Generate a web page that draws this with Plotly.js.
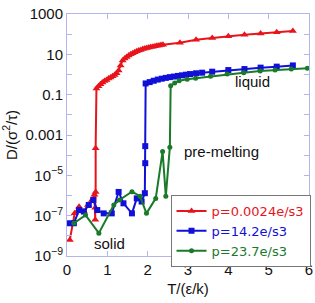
<!DOCTYPE html>
<html><head><meta charset="utf-8">
<script src="https://cdn.plot.ly/plotly-3.0.1.min.js"></script>
<style>html,body{margin:0;padding:0;background:#fff}#c{width:315px;height:303px}</style>
</head><body><div id="c"></div>
<script>
// p=0.0024e/s3
const redT = [0.07,0.19,0.30,0.42,0.52,0.62,0.68,0.70,0.70,0.71,0.71,0.73,0.78,0.83,0.88,0.93,0.98,1.03,1.08,1.13,1.18,1.23,1.28,1.33,1.38,1.43,1.48,1.53,1.58,1.63,1.68,1.73,1.78,1.83,1.88,1.93,1.98,2.03,2.08,2.13,2.18,2.23,2.28,2.33,2.38,2.8,3.2,3.6,4.0,4.4,4.8,5.2,5.6];
const redD = [6.3e-9,1.3e-7,2.8e-7,1.6e-7,3.4e-7,6.0e-7,1.1e-6,6.3e-8,2.5e-7,1.5e-6,2.2e-4,0.20,0.26,0.33,0.40,0.47,0.54,0.63,0.72,0.83,0.95,1.15,1.6,2.8,5.0,6.3,7.4,8.7,10,11.2,12.6,14.1,15.5,16.6,18.2,19.5,20.4,21.9,22.9,24,25.1,26.3,27.5,28.8,30.2,37.6,52.5,64.6,79.4,93.3,107,123,145];
// p=14.2e/s3
const blueT = [0.07,0.17,0.30,0.42,0.54,0.65,0.75,0.91,1.11,1.28,1.40,1.61,1.73,1.85,1.93,1.94,1.94,1.95,2.05,2.15,2.25,2.35,2.45,2.55,2.65,2.75,2.85,2.95,3.05,3.2,3.35,3.6,4.0,4.4,4.8,5.2,5.6];
const blueD = [4.2e-8,4.2e-8,1.9e-7,1.6e-7,3.4e-7,6.0e-7,1.9e-7,1.3e-7,1.3e-7,1.5e-6,4.1e-7,1.3e-7,7.2e-7,5.0e-7,1.3e-6,4.0e-5,2.8e-4,0.36,0.42,0.49,0.56,0.62,0.68,0.74,0.79,0.85,0.91,0.98,1.05,1.15,1.23,1.38,1.66,1.86,2.19,2.45,2.82];
// p=23.7e/s3
const greenT = [0.17,0.46,0.79,1.16,1.30,1.61,1.81,1.97,2.20,2.37,2.45,2.55,2.57,2.67,2.78,2.98,3.19,3.56,3.97,4.38,4.79,5.16,5.56,5.96];
const greenD = [4.2e-8,1.07e-7,1.35e-8,3.4e-7,6.0e-7,1.55e-6,9.3e-7,1.3e-7,7.2e-7,1.5e-4,9.3e-7,2.5e-4,0.28,0.38,0.49,0.58,0.65,0.83,1.05,1.23,1.48,1.66,1.86,2.04];

const seriesNames = ['p=0.0024e/s3','p=14.2e/s3','p=23.7e/s3'];
const yTickVals = [1e-9,1e-8,1e-7,1e-6,1e-5,1e-4,1e-3,1e-2,1e-1,1,10,100,1000];
const yTickText = ['10<sup>−9</sup>','','10<sup>−7</sup>','','10<sup>−5</sup>','','0.001','','0.1','','10','','1000'];
const xTickVals = [0,1,2,3,4,5,6];
const labels = ['liquid','pre-melting','solid'];

const colors = ['#e8141c','#1010d8','#1a7a2a'];
const FONT = 'Arial, "Liberation Sans", sans-serif';
const LFONT = '"DejaVu Sans", sans-serif';
function tr(x,y,i,sym,sz){
  return {x:x,y:y,type:'scatter',mode:'lines+markers',
    name:'<span style="color:'+colors[i]+'">'+seriesNames[i]+'</span>',
    line:{color:colors[i],width:2},marker:{color:colors[i],symbol:sym,size:sz}};
}
const data = [tr(redT,redD,0,'triangle-up',7),tr(blueT,blueD,1,'square',6),tr(greenT,greenD,2,'circle',5)];
const axcol = '#b4b4ee';
const tf = {family:FONT,size:15,color:'#111'};
const layout = {
  width:315,height:303,margin:{l:67,r:5,t:14,b:47},
  paper_bgcolor:'#fff',plot_bgcolor:'#fff',
  font:tf,
  showlegend:true,
  legend:{x:0.426,y:0.252,xanchor:'left',yanchor:'top',bgcolor:'#fff',bordercolor:'#777',borderwidth:1,
    font:{family:LFONT,size:13},tracegroupgap:0,itemwidth:30},
  xaxis:{range:[0,6],tickvals:xTickVals,ticks:'inside',ticklen:5,tickcolor:axcol,showline:true,linecolor:axcol,linewidth:1,mirror:'ticks',showgrid:false,zeroline:false,
    ticklabeloverflow:'allow',
    tickfont:tf,title:{text:'T/(ε/k)',font:tf,standoff:6}},
  yaxis:{type:'log',range:[-9,3],tickvals:yTickVals,ticktext:yTickText,ticks:'inside',ticklen:5,tickcolor:axcol,showline:true,linecolor:axcol,linewidth:1,mirror:'ticks',showgrid:false,zeroline:false,
    ticklabeloverflow:'allow',
    tickfont:tf,title:{text:'D/(σ<sup>2</sup>/τ)',font:tf,standoff:4}},
  annotations:[
    {x:4.6,y:-0.35,xref:'x',yref:'y',text:labels[0],showarrow:false,font:tf},
    {x:2.85,y:-3.8,xref:'x',yref:'y',text:labels[1],showarrow:false,xanchor:'left',font:tf},
    {x:1.06,y:-8.36,xref:'x',yref:'y',text:labels[2],showarrow:false,font:tf}
  ]
};
Plotly.newPlot('c',data,layout,{staticPlot:true,displayModeBar:false});
</script></body></html>
